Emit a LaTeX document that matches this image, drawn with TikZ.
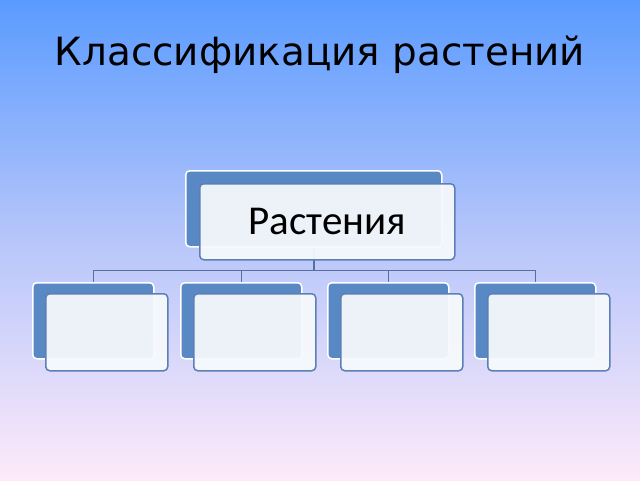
\documentclass[tikz,border=0pt]{standalone}
\usepackage{fontspec}
\newfontfamily\titlefont{DejaVu Sans}
\newfontfamily\boxfont{Carlito}
\definecolor{bgtop}{RGB}{90,155,255}
\definecolor{bgmid}{RGB}{183,198,250}
\definecolor{bgbot}{RGB}{253,234,250}
\definecolor{backfill}{RGB}{88,137,196}
\definecolor{frontfill}{RGB}{246,249,252}
\definecolor{frontline}{RGB}{92,128,182}
\definecolor{connline}{RGB}{82,112,160}
\tikzset{
  backbox/.style={draw=white, line width=1.5pt, fill=backfill, rounded corners=4pt, inner sep=0pt, anchor=north west},
  frontbox/.style={draw=frontline, line width=1.5pt, fill=frontfill, fill opacity=0.94, text opacity=1, rounded corners=4pt, inner sep=0pt, anchor=north west},
  conn/.style={draw=connline, line width=1.5pt},
}
\begin{document}
\begin{tikzpicture}[x=1pt,y=-1pt]
\useasboundingbox (0,0) rectangle (640,480);
\shade[top color=bgtop, bottom color=bgbot, middle color=bgmid] (0,0) rectangle (640,480);
\node[anchor=base, font=\titlefont\fontsize{38.9}{46}\selectfont, inner sep=0pt] (title) at (320,65) {Классификация растений};
% back boxes
\node[backbox, minimum width=256pt, minimum height=76pt] (tb) at (185,170) {};
\node[backbox, minimum width=121pt, minimum height=76pt] (b1) at (32,282) {};
\node[backbox, minimum width=121pt, minimum height=76pt] (b2) at (180,282) {};
\node[backbox, minimum width=121pt, minimum height=76pt] (b3) at (327,282) {};
\node[backbox, minimum width=121pt, minimum height=76pt] (b4) at (474,282) {};
% connectors
\coordinate (bus) at (0,270.5);
\draw[conn] (tb.south) -- (tb.south |- bus) -| (b1.north);
\draw[conn] (tb.south |- bus) -| (b2.north);
\draw[conn] (tb.south |- bus) -| (b3.north);
\draw[conn] (tb.south |- bus) -| (b4.north);
% front boxes
\node[frontbox, minimum width=255pt, minimum height=76pt, font=\boxfont\fontsize{41}{48}\selectfont] (tf) at (199,183) {Растения};
\node[frontbox, minimum width=122pt, minimum height=77pt] (f1) at (45,293) {};
\node[frontbox, minimum width=122pt, minimum height=77pt] (f2) at (193,293) {};
\node[frontbox, minimum width=122pt, minimum height=77pt] (f3) at (340,293) {};
\node[frontbox, minimum width=122pt, minimum height=77pt] (f4) at (487,293) {};
\end{tikzpicture}
\end{document}
